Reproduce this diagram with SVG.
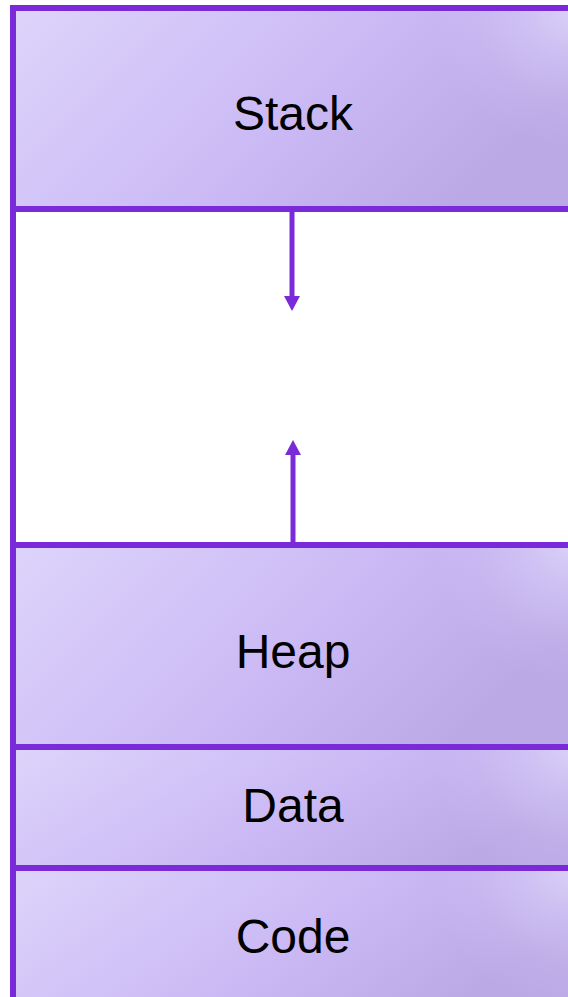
<svg xmlns="http://www.w3.org/2000/svg" width="568" height="997" viewBox="0 0 568 997">
<style>
.box{stroke:#7a2ad8;stroke-width:6}
.lbl{font-family:"Liberation Sans",Arial,sans-serif;font-size:48px;fill:#000;text-anchor:middle}
.conn{stroke:#7a2ad8;stroke-width:5;fill:none}
</style>
<defs>
<linearGradient id="g" x1="0" y1="0" x2="1" y2="0.35">
<stop offset="0" stop-color="#ddd4fb"/>
<stop offset="0.65" stop-color="#c9b7f4"/>
<stop offset="1" stop-color="#bba9e6"/>
</linearGradient>
<radialGradient id="hl1" gradientUnits="userSpaceOnUse" cx="572" cy="8" r="140">
<stop offset="0" stop-color="#e0d9fc" stop-opacity="0.8"/>
<stop offset="0.35" stop-color="#e0d9fc" stop-opacity="0.4"/>
<stop offset="0.7" stop-color="#e0d9fc" stop-opacity="0.1"/>
<stop offset="1" stop-color="#e0d9fc" stop-opacity="0"/>
</radialGradient>
<radialGradient id="hl2" href="#hl1" cx="572" cy="545"/>
<radialGradient id="hl3" href="#hl1" cx="572" cy="747"/>
<radialGradient id="hl4" href="#hl1" cx="572" cy="868"/>
<marker id="ah" markerWidth="16" markerHeight="16" refX="0" refY="8" orient="auto" markerUnits="userSpaceOnUse" viewBox="0 0 16 16">
<path d="M0,0 L15,8 L0,16 z" fill="#7a2ad8"/>
</marker>
</defs>
<rect x="13" y="209" width="570" height="336" fill="#fff" stroke="#7a2ad8" stroke-width="6"/>
<g id="stack">
<rect class="box" x="13" y="8" width="570" height="201" fill="url(#g)"/>
<rect x="16" y="11" width="552" height="195" fill="url(#hl1)"/>
<text class="lbl" x="293" y="130">Stack</text>
</g>
<g id="heap">
<rect class="box" x="13" y="545" width="570" height="202" fill="url(#g)"/>
<rect x="16" y="548" width="552" height="196" fill="url(#hl2)"/>
<text class="lbl" x="293" y="668">Heap</text>
</g>
<g id="data">
<rect class="box" x="13" y="747" width="570" height="121" fill="url(#g)"/>
<rect x="16" y="750" width="552" height="115" fill="url(#hl3)"/>
<text class="lbl" x="293" y="822">Data</text>
</g>
<g id="code">
<rect class="box" x="13" y="868" width="570" height="140" fill="url(#g)"/>
<rect x="16" y="871" width="552" height="126" fill="url(#hl4)"/>
<text class="lbl" x="293" y="953">Code</text>
</g>
<g id="connectors">
<line class="conn" x1="292" y1="212" x2="292" y2="296" marker-end="url(#ah)"/>
<line class="conn" x1="293" y1="542" x2="293" y2="455" marker-end="url(#ah)"/>
</g>
</svg>
